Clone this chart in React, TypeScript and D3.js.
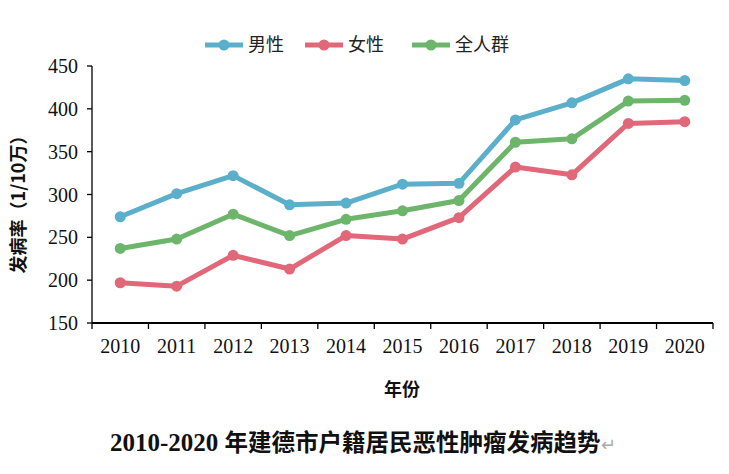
import React from "react";
import * as d3 from "d3";

const years = ["2010","2011","2012","2013","2014","2015","2016","2017","2018","2019","2020"];
const male = [274, 301, 322, 288, 290, 312, 313, 387, 407, 435, 433];
const female = [197, 193, 229, 213, 252, 248, 273, 332, 323, 383, 385];
const overall = [237, 248, 277, 252, 271, 281, 293, 361, 365, 409, 410];
const seriesNames = ["男性", "女性", "全人群"];
const seriesColors = ["#5BAFCB", "#E06878", "#6DB56B"];
const yTicks = [150, 200, 250, 300, 350, 400, 450];

const W = 729, H = 474;
const left = 92, right = 713, top = 66, bottom = 323;
const CJK = "'Noto Sans CJK SC', sans-serif";
const NUM = "'Liberation Serif', serif";

export default function App() {
  const x = d3.scaleBand<string>().domain(years).range([left, right]).padding(0);
  const y = d3.scaleLinear().domain([150, 450]).range([bottom, top]);
  const line = d3.line<number>().x((_, i) => (x(years[i]) as number) + x.bandwidth() / 2).y((d) => y(d));
  const data = [male, female, overall];
  const legendX = [205, 305, 412];
  return (
    <div style={{ position: "absolute", left: 0, top: 0 }}>
      <svg width={W} height={H} style={{ display: "block", background: "#fff" }}>
        {/* y axis */}
        <line x1={left} x2={left} y1={top} y2={bottom} stroke="#000" strokeWidth={1.3} />
        {yTicks.map((t) => (
          <g key={t}>
            <line x1={left - 5} x2={left} y1={y(t)} y2={y(t)} stroke="#000" strokeWidth={1.3} />
            <text x={left - 14} y={y(t)} dy="0.35em" textAnchor="end" fontFamily={NUM} fontSize={20} fill="#111">{t}</text>
          </g>
        ))}
        {/* x axis */}
        <line x1={left} x2={right} y1={bottom} y2={bottom} stroke="#000" strokeWidth={2} />
        {years.concat(["end"]).map((yr, i) => {
          const xx = left + i * x.bandwidth();
          return <line key={yr + i} x1={xx} x2={xx} y1={bottom} y2={bottom + 6} stroke="#000" strokeWidth={1.3} />;
        })}
        {years.map((yr) => (
          <text key={yr} x={(x(yr) as number) + x.bandwidth() / 2} y={353} textAnchor="middle" fontFamily={NUM} fontSize={20} fill="#111">{yr}</text>
        ))}
        {/* series */}
        {data.map((s, k) => (
          <g key={k}>
            <path d={line(s) || ""} fill="none" stroke={seriesColors[k]} strokeWidth={5} strokeLinejoin="round" />
            {s.map((v, i) => (
              <circle key={i} cx={(x(years[i]) as number) + x.bandwidth() / 2} cy={y(v)} r={5.5} fill={seriesColors[k]} />
            ))}
          </g>
        ))}
        {/* legend */}
        {seriesNames.map((n, k) => (
          <g key={n}>
            <line x1={legendX[k]} x2={legendX[k] + 38} y1={45} y2={45} stroke={seriesColors[k]} strokeWidth={5} />
            <circle cx={legendX[k] + 19} cy={45} r={5.5} fill={seriesColors[k]} />
            <text x={legendX[k] + 43} y={45} dy="0.36em" fontFamily={CJK} fontSize={18} fill="#222">{n}</text>
          </g>
        ))}
        {/* axis titles */}
        <text transform={`translate(19,200) rotate(-90)`} textAnchor="middle" dy="0.35em" fontFamily={CJK} fontWeight="bold" fontSize={18} fill="#111">发病率（1/10万）</text>
        <text x={402} y={390} dy="0.35em" textAnchor="middle" fontFamily={CJK} fontWeight="bold" fontSize={18} fill="#111">年份</text>
        {/* caption */}
        <text x={110} y={443} dy="0.35em" fontFamily={CJK} fontWeight="bold" fontSize={23.5} fill="#111">
          <tspan fontFamily={NUM} fontSize={25}>2010-2020 </tspan>年建德市户籍居民恶性肿瘤发病趋势<tspan fill="#aaa" fontWeight="normal" fontSize={18}>↵</tspan>
        </text>
      </svg>
    </div>
  );
}
